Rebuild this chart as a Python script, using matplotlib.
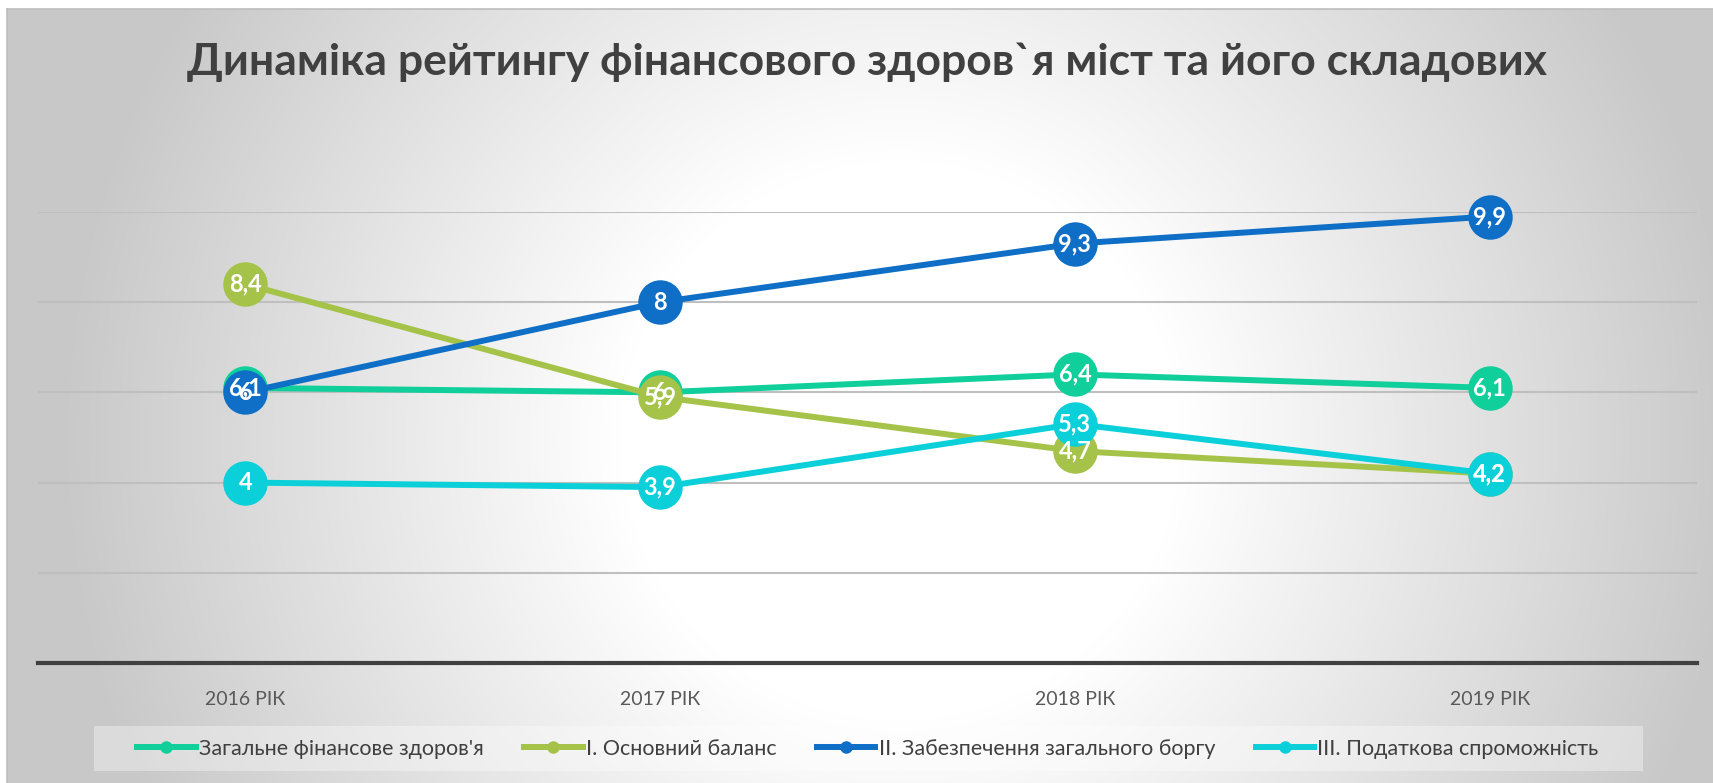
import numpy as np
import matplotlib
matplotlib.use("Agg")
import matplotlib.pyplot as plt
from matplotlib.lines import Line2D
from matplotlib.patches import Rectangle

plt.rcParams['font.family'] = ['Lato', 'DejaVu Sans']

# ---- data ----
categories = ["2016 РІК", "2017 РІК", "2018 РІК", "2019 РІК"]
series_names = ["Загальне фінансове здоров'я", "I. Основний баланс",
                "II. Забезпечення загального боргу", "III. Податкова спроможність"]
overall = [6.1, 6.0, 6.4, 6.1]
basic_balance = [8.4, 5.9, 4.7, 4.2]
debt_security = [6.0, 8.0, 9.3, 9.9]
tax_capacity = [4.0, 3.9, 5.3, 4.2]
colors = ["#10CF9B", "#A5C249", "#0F6FC6", "#0BD0D9"]
title = "Динаміка рейтингу фінансового здоров`я міст та його складових"

W, H, DPI = 1713, 783, 100
fig = plt.figure(figsize=(W / DPI, H / DPI), dpi=DPI)
fig.patch.set_facecolor("white")

# background radial gradient
bg = fig.add_axes([0, 0, 1, 1], zorder=-10)
yy, xx = np.mgrid[0:H, 0:W]
r = np.sqrt((xx - 900.0) ** 2 + ((yy - 440.0) * 1.0) ** 2)
t = np.clip((r - 280.0) / 560.0, 0, 1)
g = 1.0 - t * 0.215
img = np.dstack([g, g, g])
img[:9, :, :] = 1.0
img[:, :7, :] = 1.0
bg.imshow(img, aspect="auto", interpolation="bilinear", extent=(0, W, H, 0))
bg.plot([7, W], [9, 9], color="#bdbdbd", lw=1.2)
bg.plot([7, 7], [9, H], color="#bdbdbd", lw=1.2)
bg.set_xlim(0, W)
bg.set_ylim(H, 0)
bg.axis("off")

# main axes
left, right = 38 / W, 1697 / W
bottom, top = 1 - 663 / H, 1 - 212 / H
ax = fig.add_axes([left, bottom, right - left, top - bottom])
ax.set_facecolor("none")
x = np.arange(len(categories))
ax.set_xlim(-0.5, len(categories) - 0.5)
ax.set_ylim(0, 10)
ax.set_yticks([2, 4, 6, 8, 10])
ax.yaxis.grid(True, color="#bfbfbf", lw=1.5)
ax.set_axisbelow(True)
ax.tick_params(axis="y", left=False, labelleft=False)
ax.set_xticks(x)
ax.set_xticklabels(categories, fontsize=14, color="#595959")
ax.tick_params(axis="x", length=0, pad=20)
for s in ["top", "right", "left"]:
    ax.spines[s].set_visible(False)
ax.spines["bottom"].set_color("#404040")
ax.spines["bottom"].set_linewidth(3.0)

all_series = [overall, basic_balance, debt_security, tax_capacity]
for i, (vals, c) in enumerate(zip(all_series, colors)):
    ax.plot(x, vals, color=c, lw=4.3, marker="o", markersize=32,
            markeredgewidth=0, zorder=3 + i, clip_on=False, solid_capstyle="round")

def fmt(v):
    return f"{v:g}".replace(".", ",")

for vals in all_series:
    for xi, v in zip(x, vals):
        ax.text(xi, v, fmt(v), ha="center", va="center", color="white",
                fontsize=17, fontweight="bold", zorder=10)

fig.text(0.506, 1 - 62 / H, title, ha="center", va="center", fontsize=32,
         fontweight="bold", color="#404040")

# legend box
fig.patches.append(Rectangle((94 / W, 1 - 771 / H), (1643 - 94) / W, 45 / H,
                             transform=fig.transFigure, facecolor="white",
                             alpha=0.35, edgecolor="none", zorder=0))
handles = [Line2D([0], [0], color=c, lw=4.3, marker="o", markersize=9,
                  markeredgewidth=0) for c in colors]
leg = fig.legend(handles, series_names, loc="center", ncol=4,
                 bbox_to_anchor=(868 / W, 1 - 749 / H), frameon=False,
                 fontsize=15.5, handlelength=2.7, handletextpad=0.15,
                 columnspacing=1.9)
for txt in leg.get_texts():
    txt.set_color("#404040")

fig.savefig("out.png", dpi=DPI)
